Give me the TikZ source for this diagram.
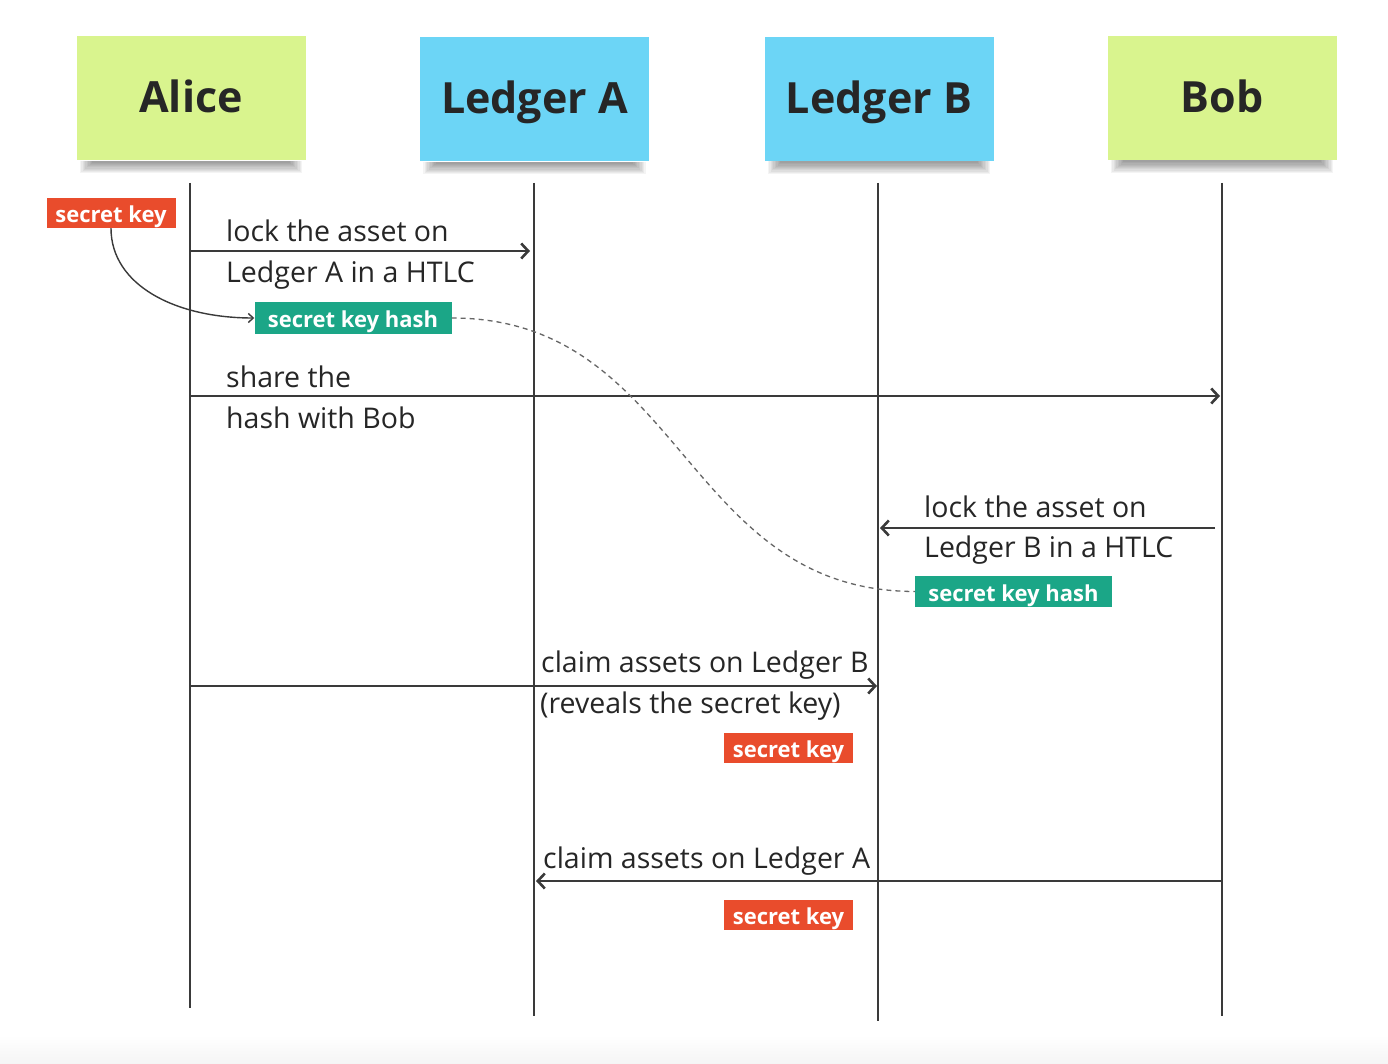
\documentclass[tikz,border=0pt]{standalone}
\usepackage{fontspec}
\setmainfont{Open Sans}
\usetikzlibrary{arrows.meta}
\definecolor{stickgreen}{RGB}{217,244,142}
\definecolor{stickblue}{RGB}{108,213,246}
\definecolor{tagred}{RGB}{233,76,44}
\definecolor{tagteal}{RGB}{27,166,135}
\definecolor{ink}{RGB}{38,38,38}
\definecolor{linec}{RGB}{58,58,58}
\begin{document}
\begin{tikzpicture}[x=1pt,y=-1pt,
  actor/.style={minimum width=229pt, minimum height=124pt, inner sep=0pt, text=ink,
    font=\fontsize{43}{50}\selectfont\bfseries, text height=31pt, text depth=2pt},
  lifeline/.style={draw=linec, line width=2.6pt},
  msg/.style={draw=linec, line width=2.6pt, -{Straight Barb[length=7pt,width=15pt]}},
  lbl/.style={anchor=base west, inner sep=0pt, text=ink, font=\fontsize{28.5}{34}\selectfont},
  tag/.style={inner sep=0pt, text=white, font=\fontsize{22}{26}\selectfont\bfseries,
    minimum height=30pt, text height=20pt, text depth=0.5pt},
  redtag/.style={tag, fill=tagred, minimum width=129pt},
  tealtag/.style={tag, fill=tagteal, minimum width=197pt, minimum height=31pt},
  keyarrow/.style={draw=linec, line width=1.4pt, -{Straight Barb[length=5pt,width=9pt]}},
  hashlink/.style={draw=black!60, line width=1.3pt, dash pattern=on 5pt off 4pt},
]
\useasboundingbox (0,0) rectangle (1388,1064);
\fill[white] (0,0) rectangle (1388,1064);
\shade[top color=white, bottom color=black!4] (0,1035) rectangle (1388,1064);

% actors
\node[actor, fill=stickgreen] (alice) at (191,98.5) {Alice};
\node[actor, fill=stickblue]  (leda)  at (534.5,99.5) {Ledger A};
\node[actor, fill=stickblue]  (ledb)  at (879,99) {Ledger B};
\node[actor, fill=stickgreen] (bob)   at (1222,98) {Bob};

% soft shadows under sticky notes
\foreach \n in {alice,leda,ledb,bob}{
  \foreach \i in {0,...,9}{
    \fill[black, opacity=0.045]
      ([xshift={(16-\i*1.4)*1pt}]\n.south west) rectangle
      ([xshift={(-16+\i*1.4)*1pt}, yshift={(-2-\i*1.2)*1pt}]\n.south east);
  }
}

% lifelines
\coordinate (aT) at (190,183);  \coordinate (aB) at (190,1008);
\coordinate (laT) at (534,183); \coordinate (laB) at (534,1016);
\coordinate (lbT) at (878,183); \coordinate (lbB) at (878,1021);
\coordinate (bT) at (1222,183); \coordinate (bB) at (1222,1016);
\draw[lifeline] (aT) -- (aB);
\draw[lifeline] (laT) -- (laB);
\draw[lifeline] (lbT) -- (lbB);
\draw[lifeline] (bT) -- (bB);

% messages
\coordinate (m1s) at (191,251);  \coordinate (m1e) at (530,251);
\coordinate (m2s) at (191,396);  \coordinate (m2e) at (1220,396);
\coordinate (m3s) at (1215,528); \coordinate (m3e) at (880,528);
\coordinate (m4s) at (190,686);  \coordinate (m4e) at (877,686);
\coordinate (m5s) at (1222,881); \coordinate (m5e) at (536,881);
\draw[msg] (m1s) -- (m1e);
\draw[msg] (m2s) -- (m2e);
\draw[msg] (m3s) -- (m3e);
\draw[msg] (m4s) -- (m4e);
\draw[msg] (m5s) -- (m5e);

% labels
\node[lbl] (t1a) at (226,242) {lock the asset on};
\node[lbl] (t1b) at (226,283) {Ledger A in a HTLC};
\node[lbl] (t2a) at (226,387) {share the};
\node[lbl] (t2b) at (226,428) {hash with Bob};
\node[lbl] (t3a) at (924,517) {lock the asset on};
\node[lbl] (t3b) at (924,557) {Ledger B in a HTLC};
\node[lbl] (t4a) at (541,672) {claim assets on Ledger B};
\node[lbl] (t4b) at (540,713) {(reveals the secret key)};
\node[lbl] (t5)  at (543,868) {claim assets on Ledger A};

% tags
\node[redtag]  (sk1)  at (111,213) {secret key};
\node[tealtag] (skh1) at (353,318) {secret key hash};
\node[tealtag] (skh2) at (1013.5,591.5) {secret key hash};
\node[redtag]  (sk2)  at (788.5,747.5) {secret key};
\node[redtag]  (sk3)  at (788.5,915) {secret key};

% links
\draw[keyarrow] (sk1.south) .. controls (111,285) and (175,318) .. (skh1.west);
\draw[hashlink] (skh1.east) .. controls (683,318) and (683,591) .. (skh2.west);
\end{tikzpicture}
\end{document}
